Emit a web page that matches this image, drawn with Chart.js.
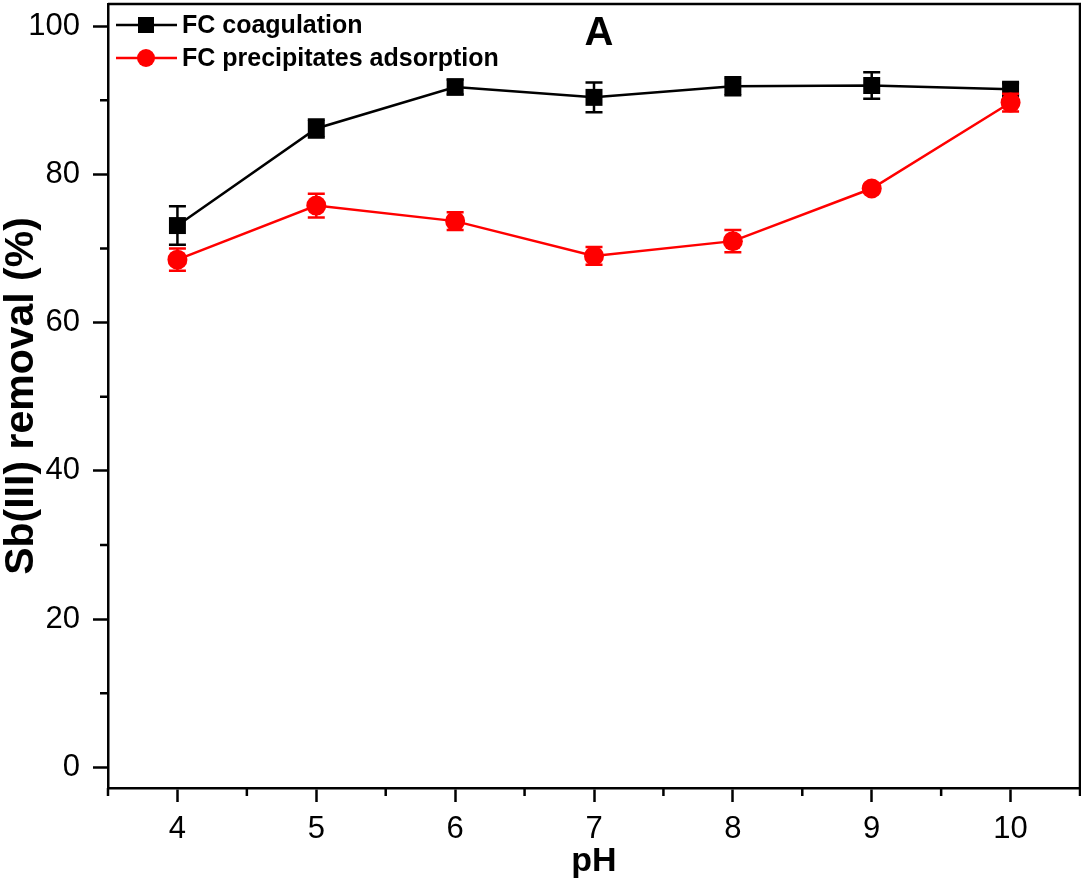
<!DOCTYPE html>
<html>
<head>
<meta charset="utf-8">
<title>Sb(III) removal vs pH</title>
<script src="https://cdn.jsdelivr.net/npm/chart.js@4.4.1/dist/chart.umd.min.js"></script>
<style>
    html, body { margin: 0; padding: 0; background: #fff; }
    #wrap { width: 1081px; height: 885px; position: relative; }
</style>
</head>
<body>
<div id="wrap"><canvas id="phChart"></canvas></div>
<script>
const phValues = [4, 5, 6, 7, 8, 9, 10];

const coagulation = [73.1, 86.2, 91.8, 90.4, 91.9, 92.0, 91.5];
const coagulationErr = [2.6, 1.2, 1.0, 2.0, 1.2, 1.8, 0.8];

const adsorption = [68.5, 75.8, 73.7, 69.0, 71.0, 78.1, 89.7];
const adsorptionErr = [1.5, 1.6, 1.2, 1.2, 1.5, 0.6, 1.2];

const seriesNames = ['FC coagulation', 'FC precipitates adsorption'];
const xTicks = [4, 5, 6, 7, 8, 9, 10];
const yTicks = [0, 20, 40, 60, 80, 100];
const yMinorTicks = [10, 30, 50, 70, 90];
const xMinorTicks = [3.5, 4.5, 5.5, 6.5, 7.5, 8.5, 9.5, 10.5];

const FONT = '"Liberation Sans", Arial, sans-serif';
const BLACK = '#000000';
const RED = '#ff0000';

Chart.defaults.font.family = FONT;
Chart.defaults.color = BLACK;

function toPoints(values) {
    return phValues.map((x, i) => ({ x: x, y: values[i] }));
}

/**
 * Vertical error bars with caps, drawn right after each dataset
 */
const errorBars = {
    id: 'errorBars',
    afterDatasetDraw(chart, args) {
        const ds = chart.data.datasets[args.index];
        if (!ds.errors) return;
        const { ctx, scales: { x, y } } = chart;
        const cap = 8.5;
        ctx.save();
        ctx.strokeStyle = ds.borderColor;
        ctx.lineWidth = 2.5;
        ds.data.forEach((p, i) => {
            const e = ds.errors[i];
            const px = x.getPixelForValue(p.x);
            const top = y.getPixelForValue(p.y + e);
            const bot = y.getPixelForValue(p.y - e);
            ctx.beginPath();
            ctx.moveTo(px, top); ctx.lineTo(px, bot);
            ctx.moveTo(px - cap, top); ctx.lineTo(px + cap, top);
            ctx.moveTo(px - cap, bot); ctx.lineTo(px + cap, bot);
            ctx.stroke();
        });
        ctx.restore();
    }
};

/**
 * Box frame (top/right), minor ticks, panel letter and legend
 */
const decorations = {
    id: 'decorations',
    afterDraw(chart) {
        const { ctx, chartArea: a, scales: { x, y } } = chart;
        ctx.save();
        ctx.strokeStyle = BLACK;
        ctx.lineWidth = 2.5;

        // frame
        ctx.beginPath();
        ctx.moveTo(a.left, a.top);
        ctx.lineTo(a.right, a.top);
        ctx.lineTo(a.right, a.bottom);
        ctx.stroke();

        // minor ticks
        ctx.beginPath();
        yMinorTicks.forEach(v => {
            const py = y.getPixelForValue(v);
            ctx.moveTo(a.left, py); ctx.lineTo(a.left - 8, py);
        });
        xMinorTicks.forEach(v => {
            const px = x.getPixelForValue(v);
            ctx.moveTo(px, a.bottom); ctx.lineTo(px, a.bottom + 8);
        });
        ctx.stroke();

        // panel letter
        ctx.fillStyle = BLACK;
        ctx.font = 'bold 40px ' + FONT;
        ctx.textAlign = 'center';
        ctx.textBaseline = 'middle';
        ctx.fillText('A', 599, 34);

        // legend
        const rows = [
            { name: seriesNames[0], color: BLACK, shape: 'rect', y: 25 },
            { name: seriesNames[1], color: RED, shape: 'circle', y: 58 }
        ];
        ctx.font = 'bold 25px ' + FONT;
        ctx.textAlign = 'left';
        rows.forEach(r => {
            ctx.strokeStyle = r.color;
            ctx.fillStyle = r.color;
            ctx.lineWidth = 2.5;
            ctx.beginPath();
            ctx.moveTo(116, r.y); ctx.lineTo(177, r.y);
            ctx.stroke();
            if (r.shape === 'rect') {
                ctx.fillRect(146 - 8, r.y - 8, 16, 16);
            } else {
                ctx.beginPath();
                ctx.arc(146, r.y, 9, 0, Math.PI * 2);
                ctx.fill();
            }
            ctx.fillStyle = BLACK;
            ctx.fillText(r.name, 182, r.y + 1);
        });
        ctx.restore();
    }
};

const ctx = document.getElementById('phChart').getContext('2d');
new Chart(ctx, {
    type: 'line',
    data: {
        datasets: [
            {
                label: seriesNames[0],
                data: toPoints(coagulation),
                errors: coagulationErr,
                borderColor: BLACK,
                backgroundColor: BLACK,
                borderWidth: 2.5,
                pointStyle: 'rect',
                pointRadius: 12,
                pointBorderWidth: 0,
                order: 2
            },
            {
                label: seriesNames[1],
                data: toPoints(adsorption),
                errors: adsorptionErr,
                borderColor: RED,
                backgroundColor: RED,
                borderWidth: 2.5,
                pointStyle: 'circle',
                pointRadius: 10,
                pointBorderWidth: 0,
                order: 1
            }
        ]
    },
    options: {
        responsive: true,
        maintainAspectRatio: false,
        animation: false,
        layout: { autoPadding: false, padding: { top: 4, right: 1, left: 0, bottom: 0 } },
        plugins: {
            legend: { display: false },
            tooltip: { enabled: false }
        },
        scales: {
            x: {
                type: 'linear',
                min: 3.5,
                max: 10.5,
                afterBuildTicks: s => { s.ticks = xTicks.map(v => ({ value: v })); },
                afterFit: s => { s.height = 97; s.paddingLeft = 0; s.paddingRight = 0; },
                ticks: {
                    padding: 9,
                    font: { size: 31 },
                    color: BLACK
                },
                grid: { drawOnChartArea: false, drawTicks: true, tickLength: 14, tickWidth: 2.5, tickColor: BLACK },
                border: { display: true, color: BLACK, width: 2.5 },
                title: {
                    display: true,
                    text: 'pH',
                    font: { size: 34, weight: 'bold', lineHeight: 1 },
                    padding: { top: 0, bottom: 6 },
                    color: BLACK
                }
            },
            y: {
                type: 'linear',
                min: -2.8,
                max: 103,
                afterBuildTicks: s => { s.ticks = yTicks.map(v => ({ value: v })); },
                afterFit: s => { s.width = 108; s.paddingTop = 0; s.paddingBottom = 0; },
                ticks: {
                    padding: 13,
                    font: { size: 31 },
                    color: BLACK
                },
                grid: { drawOnChartArea: false, drawTicks: true, tickLength: 15, tickWidth: 2.5, tickColor: BLACK },
                border: { display: true, color: BLACK, width: 2.5 },
                title: {
                    display: true,
                    text: 'Sb(III) removal (%)',
                    font: { size: 41, weight: 'bold', lineHeight: 1 },
                    padding: { top: 1, bottom: 0 },
                    color: BLACK
                }
            }
        }
    },
    plugins: [errorBars, decorations]
});
</script>
</body>
</html>
